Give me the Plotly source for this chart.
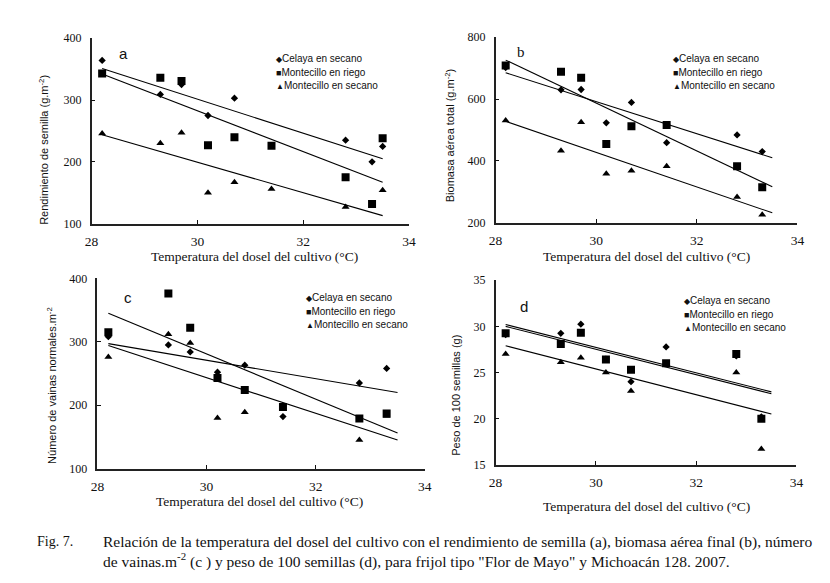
import plotly.graph_objects as go

W, H = 830, 583

# ---------------- data ----------------
trend_x = [28.2, 33.5]

# Panel a: Rendimiento de semilla (g.m-2)
a_cel_x = [28.2, 29.3, 29.7, 30.2, 30.7, 32.8, 33.3, 33.5]
a_cel_y = [364, 309, 325, 275, 303, 235, 200, 225]
a_rie_x = [28.2, 29.3, 29.7, 30.2, 30.7, 31.4, 32.8, 33.3, 33.5]
a_rie_y = [343, 336, 331, 227, 240, 226, 175, 132, 238]
a_sec_x = [28.2, 29.3, 29.7, 30.2, 30.7, 31.4, 32.8, 33.5]
a_sec_y = [246, 230, 247, 150, 167, 156, 127, 154]
a_trend_cel = [351, 205]
a_trend_rie = [342, 167]
a_trend_sec = [244, 113]

# Panel b: Biomasa aérea total (g.m-2)
b_x = [28.2, 29.3, 29.7, 30.2, 30.7, 31.4, 32.8, 33.3]
b_cel_y = [702, 630, 631, 523, 589, 459, 484, 430]
b_rie_y = [709, 688, 669, 455, 512, 516, 383, 315]
b_sec_y = [531, 433, 525, 358, 368, 383, 283, 226]
b_trend_cel = [685, 410]
b_trend_rie = [726, 316]
b_trend_sec = [528, 232]

# Panel c: Número de vainas normales.m-2
c_x = [28.2, 29.3, 29.7, 30.2, 30.7, 31.4, 32.8, 33.3]
c_cel_y = [308, 295, 284, 252, 263, 182, 235, 258]
c_rie_y = [315, 376, 322, 243, 224, 197, 179, 187]
c_sec_x = [28.2, 29.3, 29.7, 30.2, 30.7, 32.8, 33.3]
c_sec_y = [276, 312, 298, 180, 189, 145, 183]
c_trend_cel = [297, 220]
c_trend_rie = [345, 156]
c_trend_sec = [294, 145]

# Panel d: Peso de 100 semillas (g)
d_x = [28.2, 29.3, 29.7, 30.2, 30.7, 31.4, 32.8, 33.3]
d_cel_y = [29.1, 29.25, 30.24, 26.46, 24.0, 27.77, 26.8, 20.2]
d_rie_y = [29.25, 28.1, 29.3, 26.4, 25.3, 26.0, 27.0, 20.0]
d_sec_x = [28.2, 29.3, 29.7, 30.2, 30.7, 32.8, 33.3]
d_sec_y = [27.0, 26.1, 26.6, 25.0, 23.0, 25.0, 16.7]
d_trend_cel = [30.2, 22.9]
d_trend_rie = [30.0, 22.7]
d_trend_sec = [27.9, 20.5]

series_names = ["Celaya en secano", "Montecillo en riego", "Montecillo en secano"]
x_ticks = [28, 30, 32, 34]

y_titles = ["Rendimiento de semilla (g.m<sup>-2</sup>)",
            "Biomasa aérea total (g.m<sup>-2</sup>)",
            "Número de vainas normales.m<sup>-2</sup>",
            "Peso de 100 semillas (g)"]
x_title = "Temperatura del dosel del cultivo (°C)"
panel_letters = ["a", "b", "c", "d"]
caption1 = ("Relación de la temperatura del dosel del cultivo con el rendimiento de semilla (a), "
            "biomasa aérea final (b), número")
caption2 = ('de vainas.m<sup>-2</sup> (c ) y peso de 100 semillas (d), para frijol tipo '
            '"Flor de Mayo" y Michoacán 128. 2007.')

# ---------------- layout helpers ----------------
def px(x):
    return x / W

def py(y):
    return 1 - y / H

SERIF = "Liberation Serif, Times New Roman, serif"
SANS = "Liberation Sans, Arial, sans-serif"
INK = "#111111"

panels = [
    dict(box=(86, 409, 32, 222), yr=[100, 400], dt=100,
         data=[(a_cel_x, a_cel_y), (a_rie_x, a_rie_y), (a_sec_x, a_sec_y)],
         trends=[a_trend_cel, a_trend_rie, a_trend_sec],
         letter=(118, 48, SANS), legend=(272, 53),
         ytitle=(38, 146), xtitle=(252, 256)),
    dict(box=(497, 804, 31, 221), yr=[200, 800], dt=200,
         data=[(b_x, b_cel_y), (b_x, b_rie_y), (b_x, b_sec_y)],
         trends=[b_trend_cel, b_trend_rie, b_trend_sec],
         letter=(523, 46, SERIF), legend=(675, 53),
         ytitle=(450, 132), xtitle=(650, 256)),
    dict(box=(92, 425, 278, 473), yr=[100, 400], dt=100,
         data=[(c_x, c_cel_y), (c_x, c_rie_y), (c_sec_x, c_sec_y)],
         trends=[c_trend_cel, c_trend_rie, c_trend_sec],
         letter=(123, 298, SANS), legend=(302, 298),
         ytitle=(45, 388), xtitle=(257, 507)),
    dict(box=(497, 803, 280, 469), yr=[15, 35], dt=5,
         data=[(d_x, d_cel_y), (d_x, d_rie_y), (d_sec_x, d_sec_y)],
         trends=[d_trend_cel, d_trend_rie, d_trend_sec],
         letter=(526, 307, SANS), legend=(687, 301),
         ytitle=(457, 398), xtitle=(650, 512)),
]

symbols = ["diamond", "square", "triangle-up"]
sizes = [5.6, 8, 7]
glyphs = ["◆", "■", "▲"]
glyph_sizes = [8, 9, 8]

fig = go.Figure()
annotations = []
layout = {}

for i, p in enumerate(panels):
    n = "" if i == 0 else str(i + 1)
    xa, ya = "x" + n, "y" + n
    l, r, t, b = p["box"]
    layout["xaxis" + n] = dict(
        domain=[px(l), px(r)], anchor=ya, range=[28, 34], tickmode="array",
        tickvals=x_ticks, ticks="inside", ticklen=4, tickwidth=1, tickcolor=INK,
        showline=True, linecolor="#222222", linewidth=1.5, showgrid=False,
        zeroline=False, tickfont=dict(family=SERIF, size=13.5, color=INK),
        ticklabelstandoff=4)
    layout["yaxis" + n] = dict(
        domain=[py(b), py(t)], anchor=xa, range=p["yr"], tickmode="linear",
        tick0=p["yr"][0], dtick=p["dt"], ticks="inside", ticklen=4, tickwidth=1,
        tickcolor=INK, showline=True, linecolor="#222222", linewidth=1.5,
        showgrid=False, zeroline=False,
        tickfont=dict(family=SERIF, size=12, color=INK), ticklabelstandoff=6)

    for k, (xs, ys) in enumerate(p["data"]):
        fig.add_trace(go.Scatter(
            x=xs, y=ys, mode="markers", xaxis=xa, yaxis=ya, showlegend=False,
            name=series_names[k],
            marker=dict(symbol=symbols[k], size=sizes[k], color="#000000",
                        line=dict(width=0))))
    for k, ty in enumerate(p["trends"]):
        fig.add_trace(go.Scatter(
            x=trend_x, y=ty, mode="lines", xaxis=xa, yaxis=ya, showlegend=False,
            name=series_names[k] + " (tendencia)",
            line=dict(color="#000000", width=1.1)))

    lx, ly, lf = p["letter"]
    annotations.append(dict(x=px(lx), y=py(ly), xref="paper", yref="paper",
                            text=panel_letters[i], showarrow=False,
                            font=dict(family=lf, size=15, color=INK),
                            xanchor="center", yanchor="middle"))
    gx, gy = p["legend"]
    for k in range(3):
        annotations.append(dict(
            x=px(gx), y=py(gy + k * 13.6), xref="paper", yref="paper",
            text="<span style='font-size:%dpx'>%s</span>%s" % (glyph_sizes[k], glyphs[k], series_names[k]),
            showarrow=False, xanchor="left", yanchor="middle",
            font=dict(family=SANS, size=10, color=INK)))
    tx, tyc = p["ytitle"]
    annotations.append(dict(x=px(tx), y=py(tyc), xref="paper", yref="paper",
                            text=y_titles[i], showarrow=False, textangle=-90,
                            xanchor="center", yanchor="middle",
                            font=dict(family=SANS, size=11, color=INK)))
    xtx, xty = p["xtitle"]
    annotations.append(dict(x=px(xtx), y=py(xty), xref="paper", yref="paper",
                            text=x_title, showarrow=False, xanchor="center",
                            yanchor="middle", font=dict(family=SERIF, size=13.5, color=INK)))

annotations.append(dict(x=px(28), y=py(548), xref="paper", yref="paper", text="Fig. 7.",
                        showarrow=False, xanchor="left", yanchor="middle",
                        font=dict(family=SERIF, size=14, color=INK)))
annotations.append(dict(x=px(96), y=py(548), xref="paper", yref="paper", text=caption1,
                        showarrow=False, xanchor="left", yanchor="middle",
                        font=dict(family=SERIF, size=15.5, color=INK)))
annotations.append(dict(x=px(96), y=py(567), xref="paper", yref="paper", text=caption2,
                        showarrow=False, xanchor="left", yanchor="middle",
                        font=dict(family=SERIF, size=15.5, color=INK)))

fig.update_layout(
    width=W, height=H, margin=dict(l=0, r=0, t=0, b=0),
    paper_bgcolor="white", plot_bgcolor="white", showlegend=False,
    annotations=annotations, **layout)

page_fix = (
    "document.documentElement.style.margin='0';"
    "document.body.style.margin='0';"
    "document.body.style.padding='0';"
    "document.body.style.overflow='hidden';"
)

fig.write_html("out.html", config={"displayModeBar": False}, post_script=page_fix)
